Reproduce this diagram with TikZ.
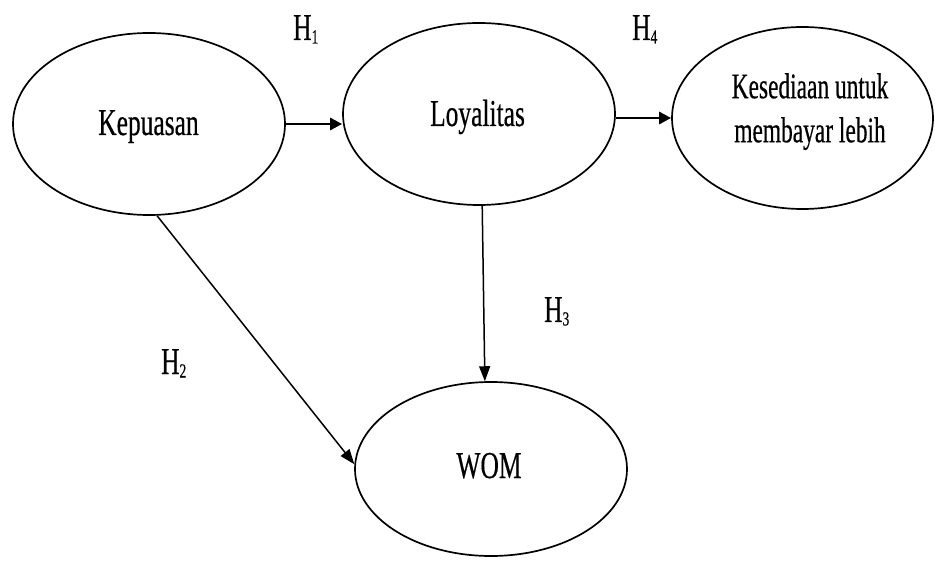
\documentclass[tikz,border=0pt]{standalone}
\usepackage{fontspec}
\setmainfont[FakeBold=0.6]{Liberation Serif}
\usepackage{graphicx}
\usetikzlibrary{shapes.geometric,arrows.meta}
\newcommand{\sq}[1]{\scalebox{0.67}[1]{#1}}
\newcommand{\hyp}[1]{\sq{H\raisebox{-3.5pt}{\fontsize{20}{20}\selectfont #1}}}
\begin{document}
\begin{tikzpicture}[x=1pt,y=-1pt,
  var/.style={draw=black, line width=1.7pt, ellipse, inner sep=0pt},
  txt/.style={inner sep=0pt, anchor=base, font=\fontsize{38}{44}\selectfont},
  hlab/.style={inner sep=0pt, anchor=base west, font=\fontsize{38}{44}\selectfont},
  bigarrow/.style={line width=2.8pt, -{Triangle[length=12pt,width=12pt]}},
  thinarrow/.style={line width=1.5pt, -{Triangle[length=15pt,width=11pt]}}]
\useasboundingbox (0,0) rectangle (935,561);
% variables
\node[var, minimum width=272pt, minimum height=182pt] (kep) at (149,124) {};
\node[var, minimum width=272pt, minimum height=182pt] (loy) at (479,114) {};
\node[var, minimum width=261pt, minimum height=182pt] (kes) at (802.5,118) {};
\node[var, minimum width=272pt, minimum height=174pt] (wom) at (491,469) {};
% texts
\node[txt] (kept) at (148.5,135) {\sq{Kepuasan}};
\node[txt] (loyt) at (477.5,126) {\sq{Loyalitas}};
\node[txt] (womt) at (489,478) {\sq{WOM}};
\node[inner sep=0pt, align=center, font=\fontsize{36}{44}\selectfont] (kest) at (810,111.6)
  {\scalebox{0.65}[1]{Kesediaan untuk}\\\scalebox{0.65}[1]{membayar lebih}};
% hypothesis labels
\node[hlab] (h1) at (293,40) {\hyp{1}};
\node[hlab] (h4) at (632,40) {\hyp{4}};
\node[hlab] (h3) at (544,322) {\hyp{3}};
\node[hlab] (h2) at (161,374) {\hyp{2}};
% connectors
\draw[bigarrow] (kep.east) -- (kep.east -| loy.west);
\draw[bigarrow] (loy.east |- kes.west) -- (kes.west);
\draw[thinarrow] (kep.-85) -- (wom.178);
\draw[thinarrow] (loy.-88) -- (wom.94);
\end{tikzpicture}
\end{document}
